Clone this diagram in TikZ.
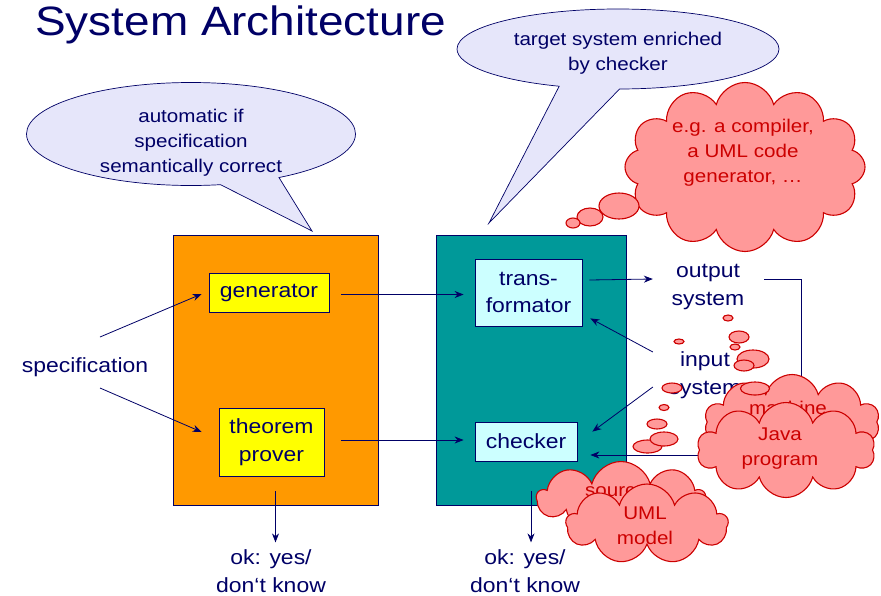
\documentclass[tikz,border=0pt]{standalone}
\usepackage{fontspec}
\setmainfont{Liberation Sans}[FakeStretch=1.12]
\usetikzlibrary{arrows.meta,shapes.geometric,shapes.symbols,shapes.callouts}

\definecolor{slideblue}{RGB}{0,0,102}
\definecolor{genorange}{RGB}{255,153,0}
\definecolor{tgtteal}{RGB}{0,153,153}
\definecolor{subyellow}{RGB}{255,255,0}
\definecolor{subcyan}{RGB}{204,255,255}
\definecolor{notelilac}{RGB}{230,230,250}
\definecolor{puffred}{RGB}{204,0,0}
\definecolor{puffpink}{RGB}{255,153,153}

\def\bodysize{\fontsize{20.5}{27.5}\selectfont}
\def\notesize{\fontsize{18.4}{25}\selectfont}

\begin{document}
\begin{tikzpicture}[x=1pt, y=-1pt,
  every node/.style={font=\bodysize, text=slideblue, align=center, inner sep=0pt},
  frame/.style={rectangle, draw=slideblue, line width=0.8pt},
  note/.style={ellipse callout, draw=slideblue, fill=notelilac, line width=0.7pt,
               callout pointer arc=22},
  notetext/.style={font=\notesize},
  puff/.style={cloud, cloud puffs=11, cloud ignores aspect, draw=puffred,
               fill=puffpink, line width=1.1pt},
  pufftext/.style={font=\notesize, text=puffred},
  bead/.style={ellipse, draw=puffred, fill=puffpink, line width=1.1pt},
  arr/.style={draw=slideblue, line width=0.8pt, -{Stealth[length=9pt,width=7pt]}}
]
\useasboundingbox (0,0) rectangle (881,595);

\node[font=\fontsize{41}{49}\selectfont, anchor=base west] (title) at (35,35) {System Architecture};

\node[note, minimum width=329pt, minimum height=103pt,
      callout absolute pointer={(312,231)}] (autonote) at (191,134) {};
\node[notetext] (autotext) at (191,143) {automatic if\\specification\\semantically correct};
\node[note, minimum width=322pt, minimum height=80pt,
      callout absolute pointer={(489,223)}] (targetnote) at (618,49) {};
\node[notetext] (targettext) at (618,53) {target system enriched\\by checker};

\node[frame, fill=genorange, minimum width=205pt, minimum height=270pt] (genbox) at (275.5,370) {};
\node[frame, fill=tgtteal,   minimum width=190pt, minimum height=270pt] (tgtbox) at (531,370) {};
\node[frame, fill=subyellow, minimum width=120pt, minimum height=39pt] (gen)   at (269,292.5) {generator};
\node[frame, fill=subyellow, minimum width=105pt, minimum height=68pt] (thm)   at (271.5,442) {theorem\\prover};
\node[frame, fill=subcyan,   minimum width=107pt, minimum height=67pt] (trans) at (528.5,292.5) {trans-\\formator};
\node[frame, fill=subcyan,   minimum width=102pt, minimum height=39pt] (chk)   at (526,441.5) {checker};

\node (spec) at (85,367.5) {specification};
\node (outsys) at (708,287) {output\\system};
\node (insys)  at (705,375) {input\\system};
\node (okgen) at (271,571) {ok: yes/\\don‘t know};
\node (oktgt) at (525,571) {ok: yes/\\don‘t know};
\coordinate (specup)   at (100,337);
\coordinate (specdown) at (100,388);

\draw[arr] (specup)   -- ([xshift=-7pt,yshift=-1.5pt]gen.west);
\draw[arr] (specdown) -- ([xshift=-17pt,yshift=10pt]thm.west);
\draw[arr] ([xshift=12pt,yshift=-2pt]gen.east) -- ([xshift=-11pt,yshift=-2pt]trans.west);
\draw[arr] ([xshift=17pt,yshift=2pt]thm.east) -- ([xshift=-11pt,yshift=1.5pt]chk.west);
\draw[arr] ([xshift=7pt,yshift=12.5pt]trans.east) -- ([xshift=-18.6pt,yshift=8pt]outsys.west);
\draw[arr] ([xshift=19.6pt,yshift=8pt]outsys.east) -- ++(37,0) |- ([xshift=13pt,yshift=-13.5pt]chk.east);
\draw[arr] ([xshift=-15.6pt,yshift=23pt]insys.west) -- ([xshift=8pt,yshift=8pt]trans.south east);
\draw[arr] ([xshift=-15.6pt,yshift=-12pt]insys.west) -- ([xshift=15pt,yshift=-10pt]chk.north east);
\draw[arr] ([yshift=14pt]genbox.south) -- ([yshift=-37pt]genbox.south);
\draw[arr] ([yshift=14pt]tgtbox.south) -- ([yshift=-37pt]tgtbox.south);

\node[puff, cloud puffs=12, minimum width=240pt, minimum height=169pt] (compcloud) at (745,167) {};
\node[pufftext] (comptext) at (743,153) {e.g. a compiler,\\a UML code\\generator, …};
\node[bead, minimum width=40pt, minimum height=26pt] (compbead1) at (619,206) {};
\node[bead, minimum width=26pt, minimum height=18pt] (compbead2) at (590,217) {};
\node[bead, minimum width=14pt, minimum height=10pt] (compbead3) at (573,223) {};

\node[puff, cloud puffs=10, minimum width=175pt, minimum height=95pt] (machcloud) at (792,422) {};
\node[pufftext] (machtext) at (788,407.5) {machine};
\node[puff, cloud puffs=10, minimum width=178pt, minimum height=95pt] (javacloud) at (786,450) {};
\node[pufftext] (javatext) at (780,449) {Java\\program};

\node[puff, cloud puffs=9, minimum width=168pt, minimum height=73pt] (srccloud) at (621,498) {};
\node[pufftext] (srctext) at (616,492) {source};
\node[puff, cloud puffs=9, minimum width=162pt, minimum height=80pt] (umlcloud) at (647,524) {};
\node[pufftext] (umltext) at (645,526) {UML\\model};

\node[bead, minimum width=10pt, minimum height=6pt]  (machbead1) at (728,318) {};
\node[bead, minimum width=20pt, minimum height=12pt] (machbead2) at (739,337) {};
\node[bead, minimum width=10pt, minimum height=6pt]  (machbead3) at (735,347) {};
\node[bead, minimum width=32pt, minimum height=18pt] (machbead4) at (753,359) {};
\node[bead, minimum width=20pt, minimum height=11pt] (machbead5) at (744,365.5) {};
\node[bead, minimum width=29pt, minimum height=13pt] (machbead6) at (755,388.5) {};

\node[bead, minimum width=10pt, minimum height=5pt]  (srcbead1) at (679,341.5) {};
\node[bead, minimum width=20pt, minimum height=10pt] (srcbead2) at (672,388) {};
\node[bead, minimum width=10pt, minimum height=6pt]  (srcbead3) at (664,407.5) {};
\node[bead, minimum width=20pt, minimum height=10pt] (srcbead4) at (657,424) {};
\node[bead, minimum width=29pt, minimum height=13pt] (srcbead5) at (647.5,446.5) {};
\node[bead, minimum width=28pt, minimum height=14pt] (srcbead6) at (664,439) {};

\end{tikzpicture}
\end{document}
